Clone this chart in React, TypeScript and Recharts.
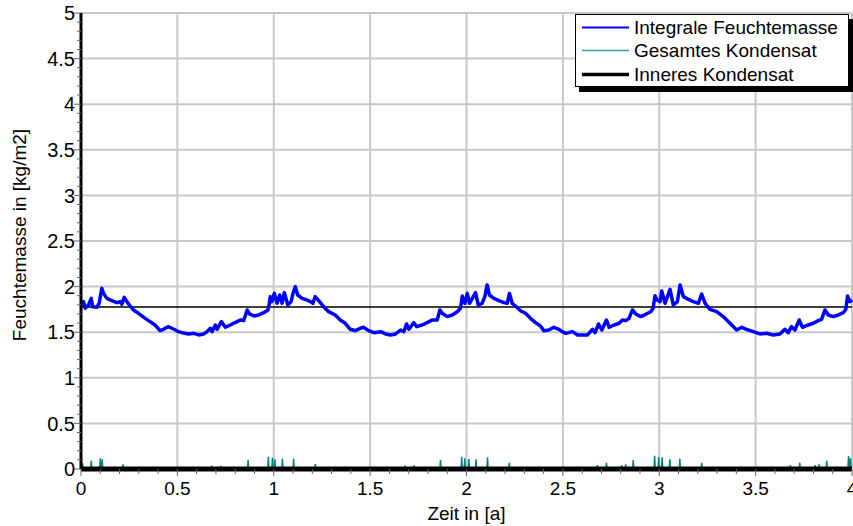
import React from 'react';
import { LineChart, Line, XAxis, YAxis, CartesianGrid, ReferenceLine, Legend, Label } from 'recharts';

// Integrale Feuchtemasse [kg/m2] as [Zeit in a, Wert]
const jahr1: [number, number][] = [
  [0, 1.8], [0.013, 1.835], [0.022, 1.762], [0.039, 1.798], [0.053, 1.871], [0.06, 1.78],
  [0.082, 1.773], [0.094, 1.817], [0.108, 1.981], [0.117, 1.926], [0.134, 1.871], [0.16, 1.846],
  [0.186, 1.824], [0.203, 1.835], [0.212, 1.806], [0.224, 1.882], [0.238, 1.835], [0.255, 1.787],
  [0.272, 1.744], [0.298, 1.707], [0.333, 1.652], [0.358, 1.616], [0.384, 1.579], [0.41, 1.517],
  [0.428, 1.532], [0.453, 1.561], [0.471, 1.543], [0.49, 1.524], [0.505, 1.506], [0.524, 1.495],
  [0.559, 1.481], [0.585, 1.488], [0.611, 1.47], [0.637, 1.481], [0.654, 1.506], [0.671, 1.543],
  [0.68, 1.506], [0.697, 1.579], [0.706, 1.532], [0.728, 1.616], [0.749, 1.554], [0.775, 1.579],
  [0.792, 1.598], [0.81, 1.616], [0.827, 1.634], [0.844, 1.627], [0.862, 1.744], [0.874, 1.7],
  [0.897, 1.678], [0.922, 1.689], [0.948, 1.714], [0.97, 1.744], [0.977, 1.817], [0.982, 1.89],
  [0.991, 1.835],
];
const jahr2: [number, number][] = [
  [1.003, 1.926], [1.017, 1.817], [1.031, 1.908], [1.043, 1.817], [1.055, 1.933], [1.073, 1.798],
  [1.09, 1.835], [1.1, 1.926], [1.112, 2.0], [1.124, 1.908], [1.147, 1.871], [1.173, 1.853],
  [1.19, 1.835], [1.203, 1.817], [1.215, 1.89], [1.233, 1.846], [1.259, 1.78], [1.285, 1.725],
  [1.319, 1.689], [1.345, 1.634], [1.371, 1.598], [1.397, 1.532], [1.423, 1.517], [1.449, 1.543],
  [1.466, 1.554], [1.492, 1.517], [1.52, 1.495], [1.554, 1.506], [1.58, 1.481], [1.606, 1.47],
  [1.632, 1.481], [1.658, 1.524], [1.675, 1.506], [1.689, 1.59], [1.701, 1.532], [1.727, 1.605],
  [1.741, 1.561], [1.77, 1.579], [1.796, 1.605], [1.822, 1.634], [1.848, 1.634], [1.862, 1.744],
  [1.874, 1.707], [1.9, 1.671], [1.926, 1.689], [1.952, 1.725], [1.969, 1.762], [1.978, 1.897],
  [1.992, 1.817],
];
const jahr3: [number, number][] = [
  [2.004, 1.926], [2.016, 1.817], [2.03, 1.871], [2.047, 1.933], [2.061, 1.798], [2.081, 1.817],
  [2.095, 1.89], [2.107, 2.018], [2.119, 1.908], [2.142, 1.871], [2.168, 1.846], [2.194, 1.824],
  [2.211, 1.817], [2.223, 1.926], [2.237, 1.817], [2.254, 1.787], [2.28, 1.736], [2.306, 1.707],
  [2.332, 1.652], [2.358, 1.605], [2.384, 1.568], [2.401, 1.517], [2.427, 1.524], [2.453, 1.554],
  [2.479, 1.532], [2.496, 1.506], [2.515, 1.488], [2.55, 1.506], [2.576, 1.47], [2.602, 1.47],
  [2.628, 1.47], [2.654, 1.532], [2.667, 1.495], [2.685, 1.59], [2.702, 1.524], [2.726, 1.634],
  [2.74, 1.554], [2.766, 1.579], [2.792, 1.598], [2.809, 1.634], [2.826, 1.627], [2.843, 1.652],
  [2.861, 1.744], [2.878, 1.7], [2.904, 1.671], [2.93, 1.696], [2.956, 1.725], [2.968, 1.762],
  [2.978, 1.9], [2.99, 1.85],
];
const jahr4: [number, number][] = [
  [3.004, 1.835], [3.013, 1.952], [3.03, 1.817], [3.056, 1.97], [3.073, 1.798], [3.094, 1.835],
  [3.108, 2.018], [3.125, 1.89], [3.151, 1.86], [3.177, 1.835], [3.203, 1.817], [3.22, 1.919],
  [3.238, 1.817], [3.263, 1.751], [3.298, 1.725], [3.332, 1.671], [3.367, 1.598], [3.402, 1.524],
  [3.428, 1.554], [3.453, 1.532], [3.488, 1.506], [3.522, 1.481], [3.557, 1.488], [3.591, 1.47],
  [3.626, 1.481], [3.652, 1.532], [3.669, 1.495], [3.686, 1.561], [3.704, 1.524], [3.726, 1.634],
  [3.743, 1.554], [3.773, 1.579], [3.799, 1.598], [3.825, 1.627], [3.842, 1.641], [3.86, 1.744],
  [3.877, 1.689], [3.903, 1.671], [3.929, 1.689], [3.955, 1.714], [3.968, 1.751], [3.977, 1.897],
  [3.989, 1.835], [4.0, 1.853],
];

// Gesamtes Kondensat: short peaks, zero in between
const kondensatSpitzen: [number, number][] = [
  [0.008, 0.069], [0.053, 0.091], [0.1, 0.117], [0.11, 0.106], [0.218, 0.051], [0.678, 0.037],
  [0.725, 0.033], [0.867, 0.099], [0.972, 0.135], [0.993, 0.124], [1.006, 0.106], [1.045, 0.113],
  [1.103, 0.113], [1.216, 0.055], [1.681, 0.037], [1.728, 0.04], [1.865, 0.099], [1.975, 0.135],
  [1.991, 0.117], [2.012, 0.11], [2.049, 0.106], [2.109, 0.128], [2.222, 0.069], [2.679, 0.044],
  [2.726, 0.069], [2.805, 0.044], [2.826, 0.051], [2.865, 0.099], [2.976, 0.146], [2.997, 0.128],
  [3.015, 0.128], [3.055, 0.106], [3.107, 0.113], [3.22, 0.069], [3.68, 0.044], [3.729, 0.069],
  [3.808, 0.044], [3.829, 0.051], [3.869, 0.091], [3.982, 0.142], [3.992, 0.117],
];

// Inneres Kondensat stays at zero
const inneresKondensat: [number, number][] = [[0, 0], [4, 0]];

const anfangswert = 1.775;

const xTicks = [0, 0.5, 1, 1.5, 2, 2.5, 3, 3.5, 4];
const yTicks = [0, 0.5, 1, 1.5, 2, 2.5, 3, 3.5, 4, 4.5, 5];
const xMinorTicks = Array.from({ length: 41 }, (_, i) => i / 10);
const yMinorTicks = Array.from({ length: 51 }, (_, i) => i / 10);

const serien = [
  { name: 'Integrale Feuchtemasse', color: '#0000ff', width: 2 },
  { name: 'Gesamtes Kondensat', color: '#3a9e9e', width: 1.5 },
  { name: 'Inneres Kondensat', color: '#000000', width: 3.5 },
];

const FONT = '"Liberation Sans", Arial, sans-serif';

const toPoints = (rows: [number, number][]) => rows.map(([t, v]) => ({ t, v }));

const feuchteDaten = toPoints([...jahr1, ...jahr2, ...jahr3, ...jahr4]);

const kondensatDaten = (() => {
  const pts: { t: number; v: number }[] = [{ t: 0, v: 0 }];
  kondensatSpitzen.forEach(([t, v]) => {
    pts.push({ t: t - 0.003, v: 0 }, { t, v }, { t: t + 0.003, v: 0 });
  });
  pts.push({ t: 4, v: 0 });
  return pts;
})();

const isMajor = (v: number) => Math.abs(v * 2 - Math.round(v * 2)) < 1e-6;

const XTick = (props: any) => {
  const { x, y, payload } = props;
  const major = isMajor(payload.value);
  return (
    <g>
      <line x1={x} x2={x} y1={y} y2={y + (major ? 7 : 5)} stroke="#666" strokeWidth={1} />
      {major && (
        <text x={x} y={y + 26} textAnchor="middle" fontFamily={FONT} fontSize={19} fill="#000">
          {String(payload.value)}
        </text>
      )}
    </g>
  );
};

const YTick = (props: any) => {
  const { x, y, payload } = props;
  const major = isMajor(payload.value);
  return (
    <g>
      <line x1={x - (major ? 7 : 4)} x2={x} y1={y} y2={y} stroke="#666" strokeWidth={1} />
      {major && (
        <text x={x - 6} y={y} dy="0.36em" textAnchor="end" fontFamily={FONT} fontSize={20} fill="#000">
          {String(payload.value)}
        </text>
      )}
    </g>
  );
};

const YTitle = (props: any) => {
  const vb = props.viewBox;
  const cx = vb.x + 19;
  const cy = vb.y + vb.height / 2 - 6;
  return (
    <text x={cx} y={cy} dy="0.36em" transform={`rotate(-90 ${cx} ${cy})`} textAnchor="middle"
      fontFamily={FONT} fontSize={19} fill="#000">
      Feuchtemasse in [kg/m2]
    </text>
  );
};

const XTitle = (props: any) => {
  const vb = props.viewBox;
  return (
    <text x={vb.x + vb.width / 2} y={vb.y + 51} textAnchor="middle" fontFamily={FONT} fontSize={19} fill="#000">
      Zeit in [a]
    </text>
  );
};

const LegendBox = () => (
  <div style={{
    width: 274,
    height: 73,
    boxSizing: 'border-box',
    background: '#fff',
    border: '1px solid #000',
    boxShadow: '4px 5px 0 0 #000',
    paddingTop: 1,
    fontFamily: FONT,
    fontSize: 19,
    color: '#000'
  }}>
    {serien.map((s) => (
      <div key={s.name} style={{ display: 'flex', alignItems: 'center', height: 23.3 }}>
        <svg width={58} height={23} style={{ flex: 'none' }}>
          <line x1={6} x2={53} y1={11.5} y2={11.5} stroke={s.color} strokeWidth={s.width} />
        </svg>
        <span style={{ whiteSpace: 'nowrap', lineHeight: '23px' }}>{s.name}</span>
      </div>
    ))}
  </div>
);

export default function App() {
  return (
    <div style={{ position: 'absolute', left: 0, top: 0, background: '#fff' }}>
      <LineChart width={853} height={526} margin={{ top: 13, right: 1, bottom: 0, left: 0 }}>
        <CartesianGrid
          stroke="#c8c8c8"
          strokeWidth={2}
          horizontalValues={yTicks}
          verticalValues={xTicks}
        />
        <XAxis
          dataKey="t"
          type="number"
          domain={[0, 4]}
          ticks={xMinorTicks}
          interval={0}
          tick={<XTick />}
          tickLine={false}
          tickSize={0}
          tickMargin={0}
          axisLine={false}
          height={57}
        >
          <Label content={<XTitle />} />
        </XAxis>
        <YAxis
          type="number"
          domain={[0, 5]}
          ticks={yMinorTicks}
          interval={0}
          tick={<YTick />}
          tickLine={false}
          tickSize={0}
          tickMargin={0}
          axisLine={{ stroke: '#000', strokeWidth: 3 }}
          width={81}
        >
          <Label content={<YTitle />} />
        </YAxis>
        <ReferenceLine y={anfangswert} stroke="#000" strokeWidth={1.5} />
        <Line
          data={kondensatDaten}
          dataKey="v"
          name={serien[1].name}
          type="linear"
          stroke="#00807f"
          strokeWidth={1.5}
          dot={false}
          isAnimationActive={false}
        />
        <Line
          data={feuchteDaten}
          dataKey="v"
          name={serien[0].name}
          type="linear"
          stroke="#0000ff"
          strokeWidth={3.5}
          strokeLinejoin="round"
          dot={false}
          isAnimationActive={false}
        />
        <Line
          data={toPoints(inneresKondensat)}
          dataKey="v"
          name={serien[2].name}
          type="linear"
          stroke="#000"
          strokeWidth={5}
          dot={false}
          isAnimationActive={false}
        />
        <Legend
          layout="vertical"
          align="center"
          verticalAlign="middle"
          wrapperStyle={{ left: 575, top: 14, width: 274, height: 73 }}
          content={() => <LegendBox />}
        />
      </LineChart>
    </div>
  );
}
